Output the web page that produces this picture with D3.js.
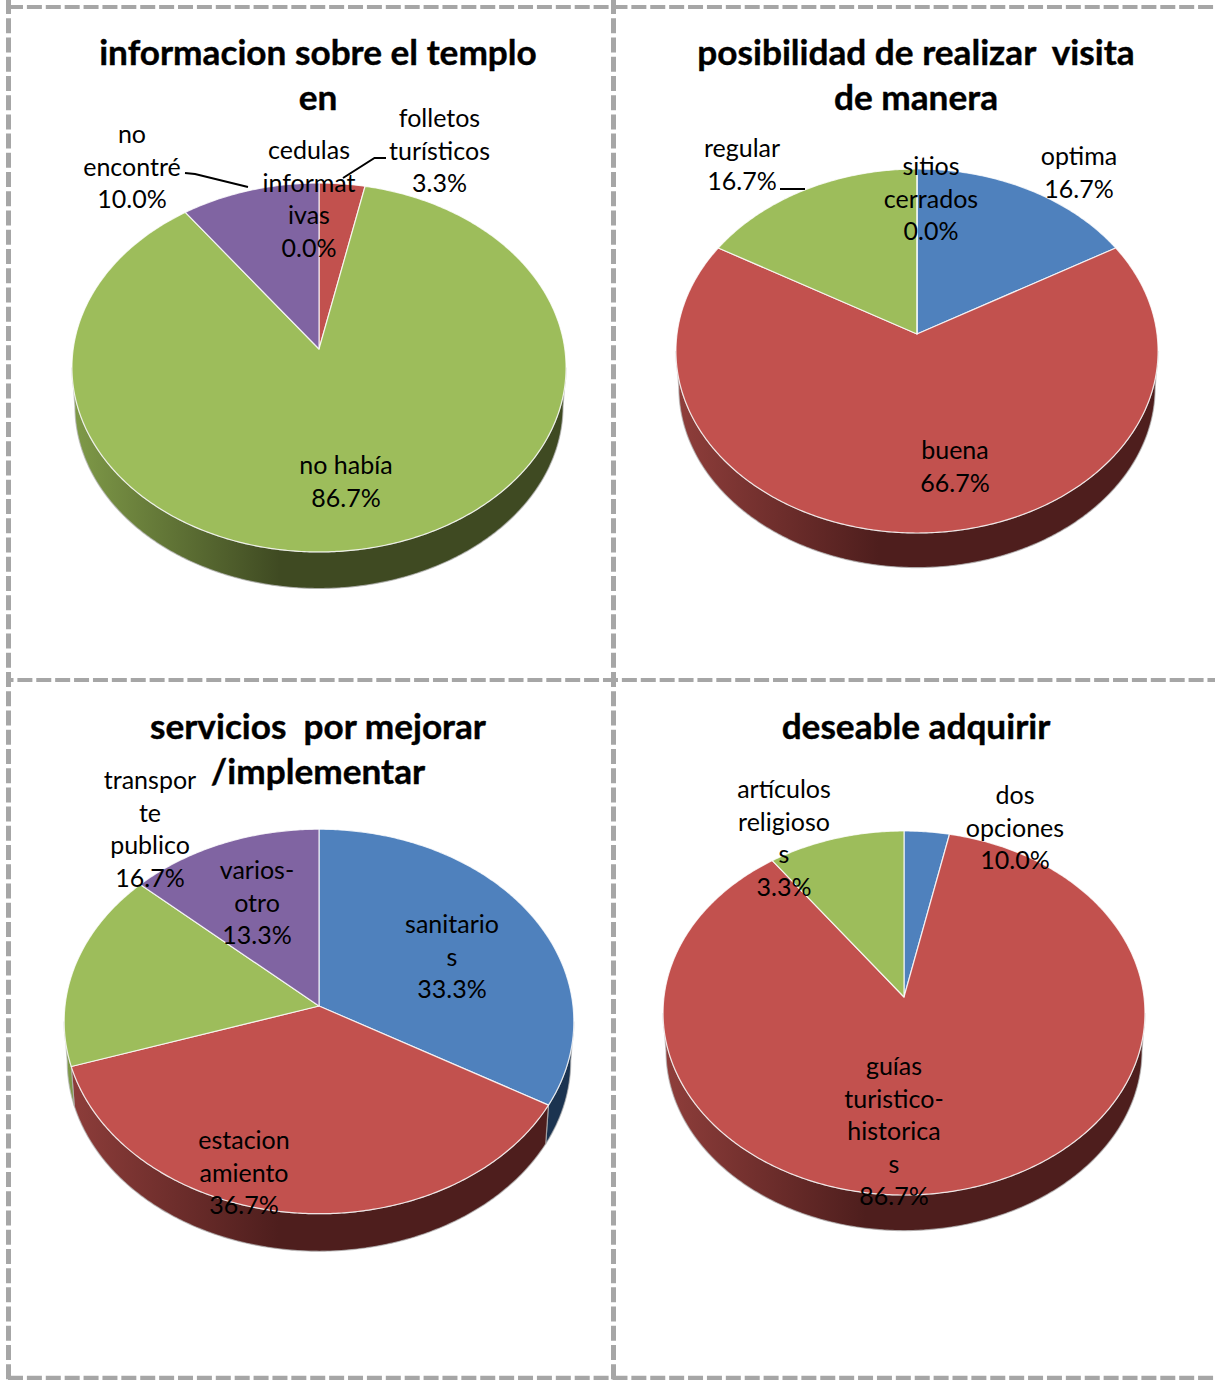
<!DOCTYPE html>
<meta http-equiv="content-type" content="text/html; charset=utf-8">

<style>
html, body { margin: 0; padding: 0; background: #fff; }
svg { display: block; }
text { fill: #000; text-anchor: middle; white-space: pre; }
.title { font-family: Lato, sans-serif; font-weight: bold; font-size: 35.2px; stroke: #000; stroke-width: 0.4; }
.lbl { font-family: Lato, sans-serif; font-size: 25px; }
.box { fill: none; stroke: #a6a6a6; }
.wall { stroke: #b5b5b5; stroke-opacity: 0.7; stroke-width: 1.2; }
.face { stroke: #fff; stroke-opacity: 0.8; stroke-width: 1.2; stroke-linejoin: round; }
.lead { fill: none; stroke: #000; stroke-width: 2; }
</style>

<body>
<div id="cont"></div>

<script src="https://d3js.org/d3.v7.min.js"></script>
<script>
var width = 1215, height = 1380;

// chart 1
var title1 = ["informacion sobre el templo", "en"];
var names1 = [["cedulas", "informat", "ivas"], ["folletos", "turísticos"], ["no había"], ["no", "encontré"]];
var values1 = [0, 3.3, 86.7, 10];
var shown1 = [0, 3.3, 86.7, 10];

// chart 2
var title2 = ["posibilidad de realizar  visita", "de manera"];
var names2 = [["optima"], ["buena"], ["regular"], ["sitios", "cerrados"]];
var values2 = [16.7, 66.7, 16.7, 0];
var shown2 = [16.7, 66.7, 16.7, 0];

// chart 3
var title3 = ["servicios  por mejorar", "/implementar"];
var names3 = [["sanitario", "s"], ["estacion", "amiento"], ["transpor", "te", "publico"], ["varios-", "otro"]];
var values3 = [33.3, 36.7, 16.7, 13.3];
var shown3 = [33.3, 36.7, 16.7, 13.3];

// chart 4: printed percentages do not match the slices in the original
var title4 = ["deseable adquirir"];
var names4 = [["dos", "opciones"], ["guías", "turistico-", "historica", "s"], ["artículos", "religioso", "s"]];
var values4 = [3.3, 86.7, 10];
var shown4 = [10, 86.7, 3.3];

// layout: apex, radii, perspective k, wall depth, title pos, label pos (centre x, first baseline)
var layout = [
  {cx: 319, cy: 349, rx: 245.8, ry: 182.6, k: 0.1003, depth: 39, tx: 318, ty: 65,
   lab: [[309, 159], [439.5, 127], [346, 474], [132, 143]],
   leads: [[[386, 158], [374.5, 158], [343, 178]], [[185, 173], [195, 174], [248, 187]]]},
  {cx: 917, cy: 334, rx: 240, ry: 180.4, k: 0.0934, depth: 37, tx: 916, ty: 65,
   lab: [[1079, 165], [955, 459], [742, 157], [931, 175]],
   leads: [[[780, 189], [805, 189]]]},
  {cx: 319, cy: 1006, rx: 254, ry: 191, k: 0.0805, depth: 40, tx: 318, ty: 739,
   lab: [[452, 933], [244, 1149], [150, 789], [257, 879]],
   leads: []},
  {cx: 904, cy: 997, rx: 240, ry: 180.6, k: 0.0879, depth: 38, tx: 916, ty: 739,
   lab: [[1015, 804], [894, 1075], [784, 798]],
   leads: []}
];

var charts = [
  {title: title1, names: names1, values: values1, shown: shown1},
  {title: title2, names: names2, values: values2, shown: shown2},
  {title: title3, names: names3, values: values3, shown: shown3},
  {title: title4, names: names4, values: values4, shown: shown4}
];

var colors = ["#4f81bd", "#c2514e", "#9dbd5b", "#8064a2"];
var wallLight = ["#2a4d78", "#8f3e3b", "#7f9a48", "#5f4a7a"];
var wallDark = ["#1b3350", "#4e1e1d", "#3f4a22", "#3c2f4f"];

var color = d3.scaleOrdinal().domain(d3.range(4)).range(colors);

var svg = d3.select("#cont").append("svg")
    .attr("width", width)
    .attr("height", height);

var defs = svg.append("defs");

// dashed panel borders: x1, y1, x2, y2, thickness, gap, dash offset
var rules = [
  [8, 7, 1215, 7, 4, 3.89, 0],
  [8, 680, 1215, 680, 4, 3.89, 9.5],
  [8, 1378, 1215, 1378, 4.5, 3.89, 0],
  [8.5, -1, 8.5, 672, 5, 4.23, 0],
  [8.5, 672, 8.5, 1380, 5, 4.23, 0],
  [613.5, -1, 613.5, 672, 5, 4.23, 0],
  [613.5, 672, 613.5, 1380, 5, 4.23, 0]
];
svg.append("g").selectAll("line").data(rules).enter().append("line")
    .attr("class", "box")
    .attr("x1", function(d) { return d[0]; })
    .attr("y1", function(d) { return d[1]; })
    .attr("x2", function(d) { return d[2]; })
    .attr("y2", function(d) { return d[3]; })
    .attr("stroke-width", function(d) { return d[4]; })
    .attr("stroke-dasharray", function(d) { return "15 " + d[5]; })
    .attr("stroke-dashoffset", function(d) { return d[6]; });

var line = d3.line();
var fmt = d3.format(".1f");

charts.forEach(function(c, ci) {
  var L = layout[ci];
  var g = svg.append("g");

  // a = angle clockwise from 12 o'clock, projected with perspective
  function rim(a) {
    var w = 1 + L.k * Math.cos(a);
    return [L.cx + L.rx * Math.sin(a) / w, L.cy - L.ry * Math.cos(a) / w];
  }
  function lower(a) {
    var p = rim(a), s = 0.988;
    return [L.cx + s * (p[0] - L.cx), L.cy + L.depth + s * (p[1] - L.cy)];
  }
  function steps(a0, a1) {
    var n = Math.max(2, Math.ceil((a1 - a0) / 0.01));
    return d3.range(n + 1).map(function(i) { return a0 + (a1 - a0) * i / n; });
  }

  var arcs = d3.pie().sort(null)(c.values);
  var front0 = Math.acos(-L.k), front1 = 2 * Math.PI - front0;

  // side walls
  arcs.forEach(function(d) {
    var a0 = Math.max(d.startAngle, front0), a1 = Math.min(d.endAngle, front1);
    if (a1 <= a0) return;
    var id = "w" + ci + "_" + d.index;
    var grad = defs.append("linearGradient").attr("id", id)
        .attr("gradientUnits", "userSpaceOnUse")
        .attr("x1", L.cx - L.rx).attr("x2", L.cx + L.rx).attr("y1", 0).attr("y2", 0);
    grad.append("stop").attr("offset", 0).attr("stop-color", wallLight[d.index]);
    grad.append("stop").attr("offset", 0.42).attr("stop-color", wallDark[d.index]);
    grad.append("stop").attr("offset", 1).attr("stop-color", wallDark[d.index]);
    var a = steps(a0, a1);
    var pts = a.map(rim).concat(a.slice().reverse().map(lower));
    g.append("path").attr("class", "wall").attr("d", line(pts) + "Z").attr("fill", "url(#" + id + ")");
  });

  // top faces
  g.selectAll(".face").data(arcs).enter().append("path")
      .attr("class", "face")
      .attr("fill", function(d) { return color(d.index); })
      .attr("d", function(d) {
        return line([[L.cx, L.cy]].concat(steps(d.startAngle, d.endAngle).map(rim))) + "Z";
      });

  // leader lines
  L.leads.forEach(function(p) {
    g.append("path").attr("class", "lead").attr("d", line(p));
  });

  // title
  c.title.forEach(function(t, i) {
    g.append("text").attr("class", "title").attr("x", L.tx).attr("y", L.ty + i * 45).text(t);
  });

  // data labels
  c.names.forEach(function(nm, i) {
    var lines = nm.concat([fmt(c.shown[i]) + "%"]);
    lines.forEach(function(t, j) {
      g.append("text").attr("class", "lbl")
          .attr("x", L.lab[i][0])
          .attr("y", L.lab[i][1] + j * 32.5)
          .text(t);
    });
  });
});
</script>
</body>
</html>
